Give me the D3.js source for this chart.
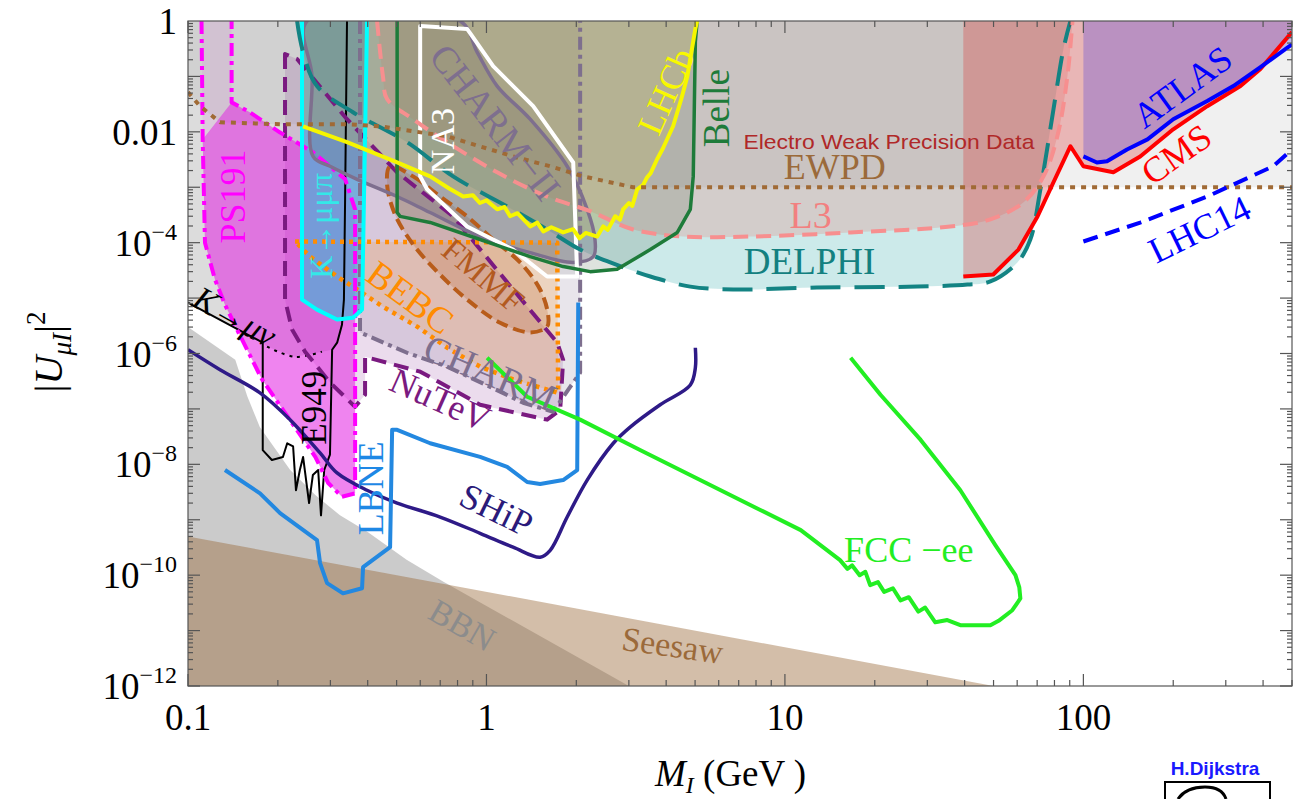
<!DOCTYPE html>
<html><head><meta charset="utf-8">
<script src="https://cdn.jsdelivr.net/npm/d3@7"></script>
<style>body{margin:0;background:#fff}svg{display:block}</style>
</head><body><svg id="c" width="1299" height="799"></svg>
<script>
// ---------- DATA (mass in GeV, |U|^2) ----------
const massTicks = [0.1, 1, 10, 100];
const massTickLabels = ["0.1", "1", "10", "100"];
const u2TickExp = [0, -2, -4, -6, -8, -10, -12];

const seesaw = [[0.1, 5e-10], [50, 1e-12]];
const bbnEdge = [[0.1,3e-6],[0.144,7.7e-7],[0.158,1.7e-7],[0.174,4.7e-8],[0.22,7.9e-9],[0.267,2.8e-9],[0.323,1.2e-9],[0.4,6e-10],[0.54,1.9e-10],[0.72,7.5e-11],[3,1e-12]];
const kmunuLine = [[0.1,8.3e-6],[0.178,1.57e-6]];
const kmunuDotted = [[0.184,1.33e-6],[0.228,8.7e-7],[0.281,1.08e-6],[0.304,1.17e-6]];
const e949Lower = [[0.178,1.57e-6],[0.178,1.8e-8],[0.191,1.2e-8],[0.208,1.36e-8],[0.215,2.4e-8],[0.225,2.1e-8],[0.23,3.4e-9],[0.237,7.9e-9],[0.243,1.36e-8],[0.2545,2e-9],[0.262,6.4e-9],[0.273,7.9e-9],[0.279,1.2e-9],[0.286,7.9e-9],[0.299,1.5e-8]];
const e949Upper = [[0.304,1.17e-6],[0.316,1.57e-6],[0.328,3.3e-6],[0.333,9.4e-6],[0.336,6e-4],[0.341,1]];
const ps191 = [[0.111,1],[0.112,7.3e-3],[0.114,1e-4],[0.123,2.2e-5],[0.133,7.6e-6],[0.146,2.7e-6],[0.177,3.4e-7],[0.228,4.7e-8],[0.267,1.36e-8],[0.295,4.6e-9],[0.328,2.6e-9],[0.363,3e-9],[0.363,4e-4],[0.336,1.4e-3],[0.262,4.3e-3],[0.203,9.8e-3],[0.161,2.26e-2],[0.14,3.4e-2],[0.14,1]];
const nutev = [[0.2114,0.253],[0.2114,9.4e-6],[0.2232,2.7e-6],[0.2467,1.08e-6],[0.2992,3e-7],[0.363,1.09e-7],[0.392,1.8e-7],[0.392,8.7e-7],[0.6,4.7e-7],[0.952,1.19e-7],[1.597,6.4e-8],[1.766,9.6e-8],[1.807,7.7e-7],[1.726,1.57e-6],[1.228,1.43e-5],[0.773,2.98e-4],[0.502,1.86e-3],[0.341,1.69e-2],[0.232,0.206]];
const charm = [[0.377,1],[0.377,2.4e-6],[0.542,1.03e-6],[0.738,5.8e-7],[1.029,2.5e-7],[1.327,1.29e-7],[1.673,8.9e-8],[1.908,2.5e-7],[2.06,4.5e-7],[2.06,1]];
const bebc = [[0.2284,1.05e-4],[1.726,1e-4],[1.739,1.95e-7],[1.228,3.4e-7],[0.952,5.8e-7],[0.756,1.17e-6],[0.586,3.05e-6],[0.45,7e-6],[0.3687,1.43e-5],[0.3158,2.45e-5],[0.2564,5.6e-5]];
const fmmf = [[0.4755,2.39e-3],[0.5678,1.57e-3],[0.6995,6.8e-4],[0.8614,2.98e-4],[1.053,1.14e-4],[1.297,4.4e-5],[1.513,1.43e-5],[1.609,5e-6],[1.597,3.05e-6],[1.401,2.4e-6],[1.111,3.6e-6],[0.8614,9.4e-6],[0.6836,3e-5],[0.5678,9.3e-5],[0.4942,3.2e-4],[0.4645,1.13e-3]];
const charm2 = [[0.2505,1],[0.2604,0.1],[0.2624,3.6e-3],[0.2992,2.39e-3],[0.3687,1.39e-3],[0.502,6.8e-4],[0.6475,3.5e-4],[0.952,1.29e-4],[1.401,6.6e-5],[1.953,4.4e-5],[2.28,5.6e-5],[2.31,1.14e-4],[2.175,4e-4],[1.864,2.39e-3],[1.401,1.69e-2],[1.086,6.7e-2],[0.9305,0.275],[0.816,1]];
const na3 = [[0.5996,0.81],[0.8614,0.72],[1.053,0.153],[1.434,2.9e-2],[1.953,2.8e-3],[2.014,2.45e-5],[1.597,2.45e-5],[1.228,7.5e-5],[0.8614,1.96e-4],[0.6326,9.2e-4],[0.5996,1.57e-3]];
const kmumupipi = [[0.241,1],[0.241,9.4e-6],[0.2705,6.2e-6],[0.3158,4.1e-6],[0.3573,4.4e-6],[0.383,6.2e-6],[0.398,1]];
const delphi = [[0.232,1],[0.243,0.275],[0.2705,6.7e-2],[0.357,2.26e-2],[0.542,6.5e-3],[0.773,1.57e-3],[1.173,4.5e-4],[1.597,1.73e-4],[2.06,7.5e-5],[2.6,4.4e-5],[3.54,2.45e-5],[4.82,1.61e-5],[6.71,1.43e-5],[12.8,1.55e-5],[27.8,1.61e-5],[40.9,1.75e-5],[48.8,2e-5],[60.1,4.4e-5],[66.4,1.14e-4],[71.8,9.2e-4],[79.4,2.56e-2],[85.7,0.31],[90.5,1]];
const l3 = [[0.43,1],[0.45,0.1],[0.4645,3.9e-2],[0.5678,1.69e-2],[0.738,6.5e-3],[1.086,1.86e-3],[1.597,6.8e-4],[2.226,3.7e-4],[3.1,1.73e-4],[4.56,1.29e-4],[7.65,1.29e-4],[16.6,1.53e-4],[35.8,1.96e-4],[48.8,2.63e-4],[62.9,5.3e-4],[73.5,1.57e-3],[81.8,8.3e-3],[88.4,0.1],[91.9,1]];
const ewpd = [[0.1,5.2e-2],[0.1097,2.9e-2],[0.128,1.49e-2],[0.2034,1.37e-2],[0.341,1.37e-2],[0.44,1.26e-2],[0.738,8.3e-3],[1.228,3.6e-3],[1.635,2.39e-3],[2.11,1.57e-3],[3.1,1e-3],[500,1e-3]];
const lhcb = [[0.243,1.26e-2],[0.341,6.5e-3],[0.502,2.8e-3],[0.6475,1.57e-3],[0.75,9.5e-4],[0.8355,6.8e-4],[0.9,7.2e-4],[0.95,5.2e-4],[1.0,5.8e-4],[1.086,4e-4],[1.15,4.4e-4],[1.2,3e-4],[1.27,3.4e-4],[1.401,1.96e-4],[1.48,2.3e-4],[1.55,1.6e-4],[1.65,1.9e-4],[1.807,1.53e-4],[1.95,1.75e-4],[2.05,1.2e-4],[2.15,1.5e-4],[2.35,1.29e-4],[2.46,1.96e-4],[2.55,1.7e-4],[2.7,3e-4],[2.8,2.6e-4],[2.87,4e-4],[3.0,5.2e-4],[3.08,4.6e-4],[3.2,9.2e-4],[3.35,1.1e-3],[3.45,1.5e-3],[3.55,1.8e-3],[3.73,3.2e-3],[3.9,5e-3],[4.22,1.26e-2],[4.5,4e-2],[4.71,0.1],[5.01,0.72],[5.08,1]];
const belle = [[0.502,1],[0.502,3.5e-4],[0.5136,2.98e-4],[0.6475,2.32e-4],[0.952,1.14e-4],[1.401,5.6e-5],[1.807,3.7e-5],[2.226,3e-5],[2.74,3.3e-5],[3.54,7.5e-5],[4.36,1.53e-4],[4.82,4e-4],[4.93,1.57e-3],[5.01,0.42],[5.08,1]];
const cms = [[39.6,2.45e-5],[49.9,2.66e-5],[60.6,7.5e-5],[70.2,2.98e-4],[79.4,1.23e-3],[90.5,5.5e-3],[100,2.39e-3],[126,1.86e-3],[155,3.6e-3],[200,1.11e-2],[260,2.9e-2],[336,6.7e-2],[392,0.136],[500,0.63]];
const atlas = [[100,3.6e-3],[111,2.8e-3],[120,2.94e-3],[140,4.8e-3],[164,7.3e-3],[200,1.69e-2],[260,3.6e-2],[318,6.7e-2],[392,0.147],[500,0.38]];
const lhc14 = [[100,1.05e-4],[155,2.3e-4],[260,6.8e-4],[433,2.4e-3],[500,4.8e-3]];
const ship = [[0.1,1.17e-6],[0.128,5.1e-7],[0.1743,1.95e-7],[0.2197,6.4e-8],[0.277,1.61e-8],[0.3158,7e-9],[0.398,3.4e-9],[0.502,2e-9],[0.6995,1.12e-9],[0.952,5.7e-10],[1.228,3.2e-10],[1.513,2.1e-10],[1.635,2.8e-10],[1.864,1.12e-9],[2.175,5.2e-9],[2.66,2.4e-8],[3.03,4.7e-8],[3.82,1.19e-7],[4.82,2.7e-7],[5.01,5.5e-7],[5.01,1.27e-6]];
const lbne = [[0.133,7.9e-9],[0.1743,3e-9],[0.2034,1.32e-9],[0.2705,4.3e-10],[0.277,1.65e-10],[0.2924,7.2e-11],[0.3307,4.7e-11],[0.383,5.8e-11],[0.386,1.4e-10],[0.4755,3.2e-10],[0.483,4.2e-8],[0.502,4.2e-8],[0.6475,2.4e-8],[0.952,1.36e-8],[1.173,9e-9],[1.369,4.8e-9],[1.513,4.4e-9],[1.807,5.2e-9],[2.014,7.9e-9],[2.03,8.3e-6]];
const fcc = [[1.005,8.4e-7],[1.369,1.66e-7],[2.06,6.4e-8],[3.27,1.82e-8],[5.2,5.2e-9],[8.27,1.5e-9],[11.3,6.5e-10],[15.3,1.87e-10],[16.2,1.3e-10],[16.8,1.5e-10],[17.8,1e-10],[18.6,1.15e-10],[19.3,6.6e-11],[20.5,7.5e-11],[21.5,5e-11],[23,5.8e-11],[24.4,3.5e-11],[26,4e-11],[28,2.2e-11],[29.5,2.6e-11],[31.9,1.41e-11],[35,1.55e-11],[38.7,1.25e-11],[48.8,1.25e-11],[52,1.5e-11],[57.8,2.33e-11],[61.5,3.8e-11],[61,6e-11],[59.2,1e-10],[50.7,3.5e-10],[38.7,3.4e-9],[28.5,2.76e-8],[20.9,1.8e-7],[16.6,8.4e-7]];

const labelTexts = ["PS191","K→μμπ","K→μν","E949","LBNE","SHiP","NuTeV","CHARM","BEBC","FMMF","NA3","CHARM−II","LHCb","Belle","Electro Weak Precision Data","EWPD","L3","DELPHI","ATLAS","CMS","LHC14","FCC −ee","Seesaw","BBN"];
const labelMass = [0.1415,0.28,0.1437,0.265,0.41,1.08,0.7,1.03,0.555,0.974,0.71,1.07,4.0,5.9,22.3,14.7,12.2,12.1,215,205,245,26,4.2,0.83];
const labelU2 = [6.8e-4,2.0e-4,4.6e-6,1.05e-7,3.7e-9,1.5e-9,1.46e-7,4.5e-7,1.02e-5,2.55e-5,6.8e-3,1.49e-2,5.4e-2,2.67e-2,6.8e-3,2.3e-3,3.2e-4,4.6e-5,6.4e-2,3.9e-3,1.73e-4,2.8e-10,5.4e-12,1.25e-11];

// ---------- STYLES ----------
const labelStyle = {
 "PS191":{c:"#ff00ff",r:-90,s:36},"K→μμπ":{c:"#33e8e8",r:-90,s:32},"K→μν":{c:"#000",r:29,s:34,i:true},
 "E949":{c:"#000",r:-90,s:35},"LBNE":{c:"#1e88e5",r:-90,s:36},"SHiP":{c:"#2a1a7a",r:26,s:36},
 "NuTeV":{c:"#7a1a80",r:24,s:36},"CHARM":{c:"#7e6f8e",r:23,s:38},"BEBC":{c:"#ff8c00",r:36,s:37},
 "FMMF":{c:"#b35a1f",r:40,s:33},"NA3":{c:"#fff",r:-90,s:34},"CHARM−II":{c:"#7e6f8e",r:52,s:38},
 "LHCb":{c:"#f8f800",r:-66,s:36},"Belle":{c:"#1e7b3a",r:-90,s:37},
 "Electro Weak Precision Data":{c:"#b02828",r:0,s:21,sans:true,len:291},
 "EWPD":{c:"#9b6a3a",r:0,s:36},"L3":{c:"#f28080",r:0,s:38},"DELPHI":{c:"#138080",r:0,s:37},
 "ATLAS":{c:"#0000ff",r:-36,s:36},"CMS":{c:"#ff0000",r:-35,s:36},"LHC14":{c:"#0000ff",r:-26,s:36},
 "FCC −ee":{c:"#22ee22",r:0,s:36},"Seesaw":{c:"#9b6a3a",r:8,s:34},"BBN":{c:"#8c8c8c",r:30,s:34}
};

const svg = d3.select('#c');
const X0 = 188, X1 = 1292, Y0 = 21, Y1 = 686;
const x = d3.scaleLog().domain([0.1, 500]).range([X0, X1]);
const y = d3.scaleLog().domain([1e-12, 1]).range([Y1, Y0]);
svg.append('rect').attr('width', 1299).attr('height', 799).attr('fill', '#fff');
svg.append('defs').append('clipPath').attr('id', 'clip').append('rect')
  .attr('x', X0).attr('y', Y0).attr('width', X1 - X0).attr('height', Y1 - Y0);
const plot = svg.append('g').attr('clip-path', 'url(#clip)');

const lin = d3.line().x(d => x(d[0])).y(d => y(d[1]));
const smo = d3.line().x(d => x(d[0])).y(d => y(d[1])).curve(d3.curveCatmullRom.alpha(0.5));
const smoC = d3.line().x(d => x(d[0])).y(d => y(d[1])).curve(d3.curveCatmullRomClosed.alpha(0.5));
const TOP = Y0 - 6, BOT = Y1 + 6;

function fillPath(d, fill) { plot.append('path').attr('d', d).attr('fill', fill).attr('stroke', 'none'); }
function above(pts, gen) { const a = pts[0], b = pts[pts.length - 1]; return gen(pts) + `L${x(b[0])},${TOP}L${x(a[0])},${TOP}Z`; }
function strokePath(d, color, w, dash) {
  const p = plot.append('path').attr('d', d).attr('fill', 'none').attr('stroke', color)
    .attr('stroke-width', w).attr('stroke-linejoin', 'round');
  if (dash) p.attr('stroke-dasharray', dash);
}

// ---------- FILLS ----------
fillPath(lin(bbnEdge) + `L${x(3)},${BOT}L${X0 - 5},${BOT}L${X0 - 5},${y(3e-6)}Z`, 'rgba(140,140,140,0.45)');
fillPath(lin(seesaw) + `L${x(50)},${BOT}L${X0 - 5},${BOT}Z`, 'rgba(150,100,50,0.42)');
fillPath(above(ewpd, lin), 'rgba(140,140,140,0.13)');
fillPath(lin([[0.1, 1], ...kmunuLine, ...kmunuDotted, ...e949Upper]) + 'Z', 'rgba(140,140,140,0.3)');
fillPath(lin(nutev) + 'Z', 'rgba(128,40,140,0.16)');
fillPath(lin(charm) + 'Z', 'rgba(126,111,142,0.18)');
fillPath(lin(bebc) + 'Z', 'rgba(255,140,0,0.18)');
fillPath(smoC(fmmf), 'rgba(180,90,30,0.22)');
fillPath(lin(ps191.slice(1, -1)) + 'Z', 'rgba(225,30,225,0.5)');
fillPath(lin(ps191) + 'Z', 'rgba(225,30,225,0.08)');
fillPath(lin(kmumupipi) + 'Z', 'rgba(100,165,215,0.85)');
fillPath(above(delphi, smo), 'rgba(0,150,150,0.2)');
fillPath(above(l3, smo), 'rgba(230,120,110,0.25)');
fillPath(smoC(charm2), 'rgba(110,95,130,0.3)');
fillPath(lin(na3) + 'Z', 'rgba(120,120,120,0.12)');
fillPath(lin(belle) + 'Z', 'rgba(70,100,70,0.18)');
fillPath(above(lhcb, lin), 'rgba(190,180,90,0.3)');
fillPath(above(cms, lin), 'rgba(220,50,50,0.3)');
fillPath(above(atlas, lin), 'rgba(80,60,220,0.3)');

// ---------- LINES ----------
strokePath(lin([...kmunuLine, ...e949Lower.slice(1), ...e949Upper]), '#000', 2);
strokePath(smo(kmunuDotted.slice(0, 3)), '#000', 2, '3,5');
strokePath(lin(nutev) + 'Z', '#7a1a80', 4, '15,8');
strokePath(lin(charm), '#7e6f8e', 4, '13,5,4,5');
strokePath(lin(bebc) + 'Z', '#ff8c00', 4.5, '4,5');
strokePath(smoC(fmmf), '#b85c1a', 4, '12,6');
strokePath(lin(ps191), '#ff00ff', 4, '13,5,4,5');
strokePath(smoC(charm2), '#7e6f8e', 3.5);
strokePath(lin(na3) + 'Z', '#fff', 4);
strokePath(lin(kmumupipi), '#00ffff', 4);
strokePath(smo(delphi), '#138383', 4, '30,14');
strokePath(smo(l3), '#f78f8f', 4, '15,8');
strokePath(lin(belle), '#1e7b3a', 3.5);
strokePath(lin(lhcb), '#f6f600', 4);
strokePath(lin(ewpd), '#a06a35', 4, '5,6');
strokePath(smo(ship), '#2e1a87', 3.5);
strokePath(lin(lbne), '#2388e0', 4);
strokePath(lin(fcc), '#22ee22', 4);
strokePath(lin(cms), '#ff0000', 4);
strokePath(lin(atlas), '#0000ff', 4);
strokePath(lin(lhc14), '#0000ff', 4, '15,8');

// ---------- LABELS ----------
labelTexts.forEach((t, i) => {
  const st = labelStyle[t];
  const px = x(labelMass[i]), py = y(labelU2[i]);
  const el = svg.append('text').attr('transform', `translate(${px},${py}) rotate(${st.r})`)
    .attr('text-anchor', 'middle').attr('dominant-baseline', 'central')
    .attr('font-family', st.sans ? 'Liberation Sans, DejaVu Sans, sans-serif' : 'Liberation Serif, serif')
    .attr('font-size', st.s).attr('fill', st.c).text(t);
  if (st.i) el.attr('font-style', 'italic');
  if (st.len) el.attr('textLength', st.len).attr('lengthAdjust', 'spacingAndGlyphs');
});

// ---------- FRAME & TICKS ----------
const ax = svg.append('g').attr('stroke', '#555').attr('stroke-width', 1.2);
ax.append('rect').attr('x', X0).attr('y', Y0).attr('width', X1 - X0).attr('height', Y1 - Y0).attr('fill', 'none');
const xMinor = [], yMinor = [];
for (let e = -1; e <= 2; e++) for (let k = 1; k <= 9; k++) { const v = k * Math.pow(10, e); if (v >= 0.1 && v <= 500) xMinor.push([v, k === 1]); }
for (let e = -12; e < 0; e++) for (let k = 1; k <= 9; k++) yMinor.push([k * Math.pow(10, e), k === 1]);
xMinor.forEach(([v, maj]) => {
  const L = maj ? 12 : 6, px = x(v);
  ax.append('line').attr('x1', px).attr('x2', px).attr('y1', Y1).attr('y2', Y1 - L);
  ax.append('line').attr('x1', px).attr('x2', px).attr('y1', Y0).attr('y2', Y0 + L);
});
yMinor.forEach(([v, maj]) => {
  const L = maj ? 12 : 5, py = y(v);
  ax.append('line').attr('y1', py).attr('y2', py).attr('x1', X0).attr('x2', X0 + L);
  ax.append('line').attr('y1', py).attr('y2', py).attr('x1', X1).attr('x2', X1 - L);
});

const tf = 'Liberation Serif, serif';
massTicks.forEach((v, i) => {
  svg.append('text').attr('x', x(v)).attr('y', 730).attr('text-anchor', 'middle')
    .attr('font-family', tf).attr('font-size', 37).attr('fill', '#000').text(massTickLabels[i]);
});
u2TickExp.forEach(e => {
  const t = svg.append('text').attr('x', 177).attr('y', y(Math.pow(10, e)) + 13).attr('text-anchor', 'end')
    .attr('font-family', tf).attr('font-size', 37).attr('fill', '#000');
  if (e === 0) t.text('1');
  else if (e === -2) t.text('0.01');
  else { t.append('tspan').text('10'); t.append('tspan').attr('dy', -16).attr('font-size', 24).text('−' + (-e)); }
});

// axis titles
const yt = svg.append('text').attr('transform', 'translate(62,352) rotate(-90)').attr('text-anchor', 'middle')
  .attr('font-family', tf).attr('font-size', 40).attr('fill', '#000');
yt.append('tspan').text('|');
yt.append('tspan').attr('font-style', 'italic').text('U');
yt.append('tspan').attr('font-style', 'italic').attr('font-size', 27).attr('dy', 9).text('μI');
yt.append('tspan').attr('dy', -9).text('|');
yt.append('tspan').attr('font-size', 27).attr('dy', -17).text('2');

const xt = svg.append('text').attr('x', 655).attr('y', 786)
  .attr('font-family', tf).attr('font-size', 37).attr('fill', '#000');
xt.append('tspan').attr('font-style', 'italic').text('M');
xt.append('tspan').attr('font-style', 'italic').attr('font-size', 24).attr('dy', 7).text('I');
xt.append('tspan').attr('dy', -7).text(' (GeV )');

// signature
svg.append('text').attr('x', 1215).attr('y', 775).attr('text-anchor', 'middle')
  .attr('font-family', 'Liberation Sans, DejaVu Sans, sans-serif').attr('font-weight', 'bold')
  .attr('font-size', 19).attr('fill', '#1a1aff').text('H.Dijkstra');
svg.append('rect').attr('x', 1165).attr('y', 782).attr('width', 105).attr('height', 30)
  .attr('fill', 'none').attr('stroke', '#000').attr('stroke-width', 2);
svg.append('path').attr('d', 'M1178,799 Q1186,787 1205,787 Q1222,787 1226,799')
  .attr('fill', 'none').attr('stroke', '#000').attr('stroke-width', 3);
</script></body></html>
